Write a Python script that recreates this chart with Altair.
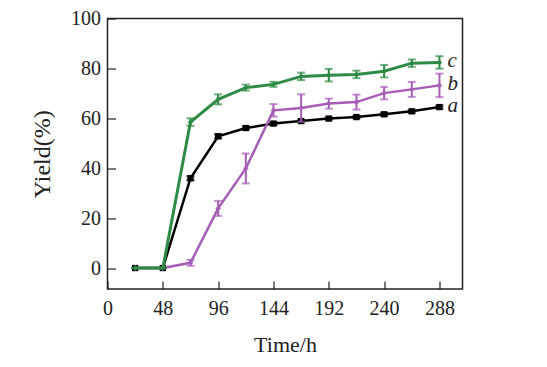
import altair as alt
import pandas as pd

times = [24, 48, 72, 96, 120, 144, 168, 192, 216, 240, 264, 288]
series_names = ["a", "b", "c"]
a_vals = [0, 0, 36, 52.8, 56.1, 57.9, 58.9, 59.9, 60.5, 61.6, 62.8, 64.5]
a_err = [0, 0, 0.8, 0.8, 0.6, 0.6, 0.5, 0.5, 0.5, 0.6, 0.6, 0.6]
b_vals = [0, 0, 2.1, 23.9, 39.9, 63.2, 64.1, 65.9, 66.5, 70.1, 71.6, 73.2]
b_err = [0, 0, 1.2, 3.0, 6.0, 2.5, 5.5, 2.0, 3.0, 2.5, 3.0, 4.7]
c_vals = [0, 0, 58.5, 67.6, 72.3, 73.6, 76.8, 77.3, 77.6, 78.9, 82.1, 82.4]
c_err = [0, 0, 1.5, 2.0, 1.2, 1.0, 1.5, 2.5, 1.5, 2.5, 1.5, 2.5]
colors = ["#000000", "#a65db6", "#2e8b45"]
x_ticks = [0, 48, 96, 144, 192, 240, 288]
y_ticks = [0, 20, 40, 60, 80, 100]

rows = []
for name, vals, errs in zip(series_names, [a_vals, b_vals, c_vals], [a_err, b_err, c_err]):
    for t, v, e in zip(times, vals, errs):
        rows.append({"series": name, "time": t, "y": v, "lo": v - e, "hi": v + e})
df = pd.DataFrame(rows)
labels = df[df["time"] == 288].copy()

W, H = 355, 270.5
xs = alt.Scale(domain=[0, 308], nice=False, zero=False)
ys = alt.Scale(domain=[-8.4, 100], nice=False, zero=False)
FONT = "Liberation Serif, Times New Roman, serif"

xax = alt.Axis(values=x_ticks, title="Time/h", grid=False, domain=False, tickSize=8,
               offset=-8, labelPadding=9, titlePadding=16, tickColor="#222", tickWidth=1.2,
               labelFlush=False, labelOverlap=False,
               labelFontSize=20, titleFontSize=22, labelFont=FONT, titleFont=FONT,
               titleFontWeight="normal", labelColor="#222", titleColor="#222")
yax = alt.Axis(values=y_ticks, title="Yield(%)", grid=False, domain=False, tickSize=8,
               offset=-8, labelPadding=7, titlePadding=16, tickColor="#222", tickWidth=1.2,
               labelFlush=False, labelOverlap=False,
               labelFontSize=20, titleFontSize=24, labelFont=FONT, titleFont=FONT,
               titleFontWeight="normal", labelColor="#222", titleColor="#222")

base = alt.Chart(df)

layers = []
for name, col, shape, size, sw in [("a", colors[0], "square", 40, 2.5),
                                   ("b", colors[1], "diamond", 30, 2.5),
                                   ("c", colors[2], "diamond", 30, 3)]:
    sub = base.transform_filter(alt.datum.series == name)
    line = sub.mark_line(color=col, strokeWidth=sw).encode(
        x=alt.X("time:Q", scale=xs, axis=xax), y=alt.Y("y:Q", scale=ys, axis=yax))
    err = sub.mark_rule(color=col, strokeWidth=2).encode(
        x="time:Q", y="lo:Q", y2="hi:Q")
    caplo = sub.mark_tick(color=col, thickness=2, size=8, orient="horizontal").encode(
        x="time:Q", y="lo:Q")
    caphi = sub.mark_tick(color=col, thickness=2, size=8, orient="horizontal").encode(
        x="time:Q", y="hi:Q")
    pts = sub.mark_point(color=col, shape=shape, filled=True, size=size, opacity=1).encode(
        x="time:Q", y="y:Q")
    layers += [line, err, caplo, caphi, pts]

text = alt.Chart(labels).mark_text(align="left", baseline="middle", dx=8, dy=-1,
                                   font=FONT, fontSize=21, fontStyle="italic",
                                   color="#222").encode(
    x="time:Q", y="y:Q", text="series:N")

chart = alt.layer(*layers, text).properties(
    width=W, height=H,
    background="white",
    autosize=alt.AutoSizeParams(type="none"),
    padding={"left": 99.5, "top": 10.5, "right": 70, "bottom": 70},
).configure_view(stroke="#222", strokeWidth=1.5)

chart.save("out.html", embed_options={"renderer": "svg", "actions": False})
